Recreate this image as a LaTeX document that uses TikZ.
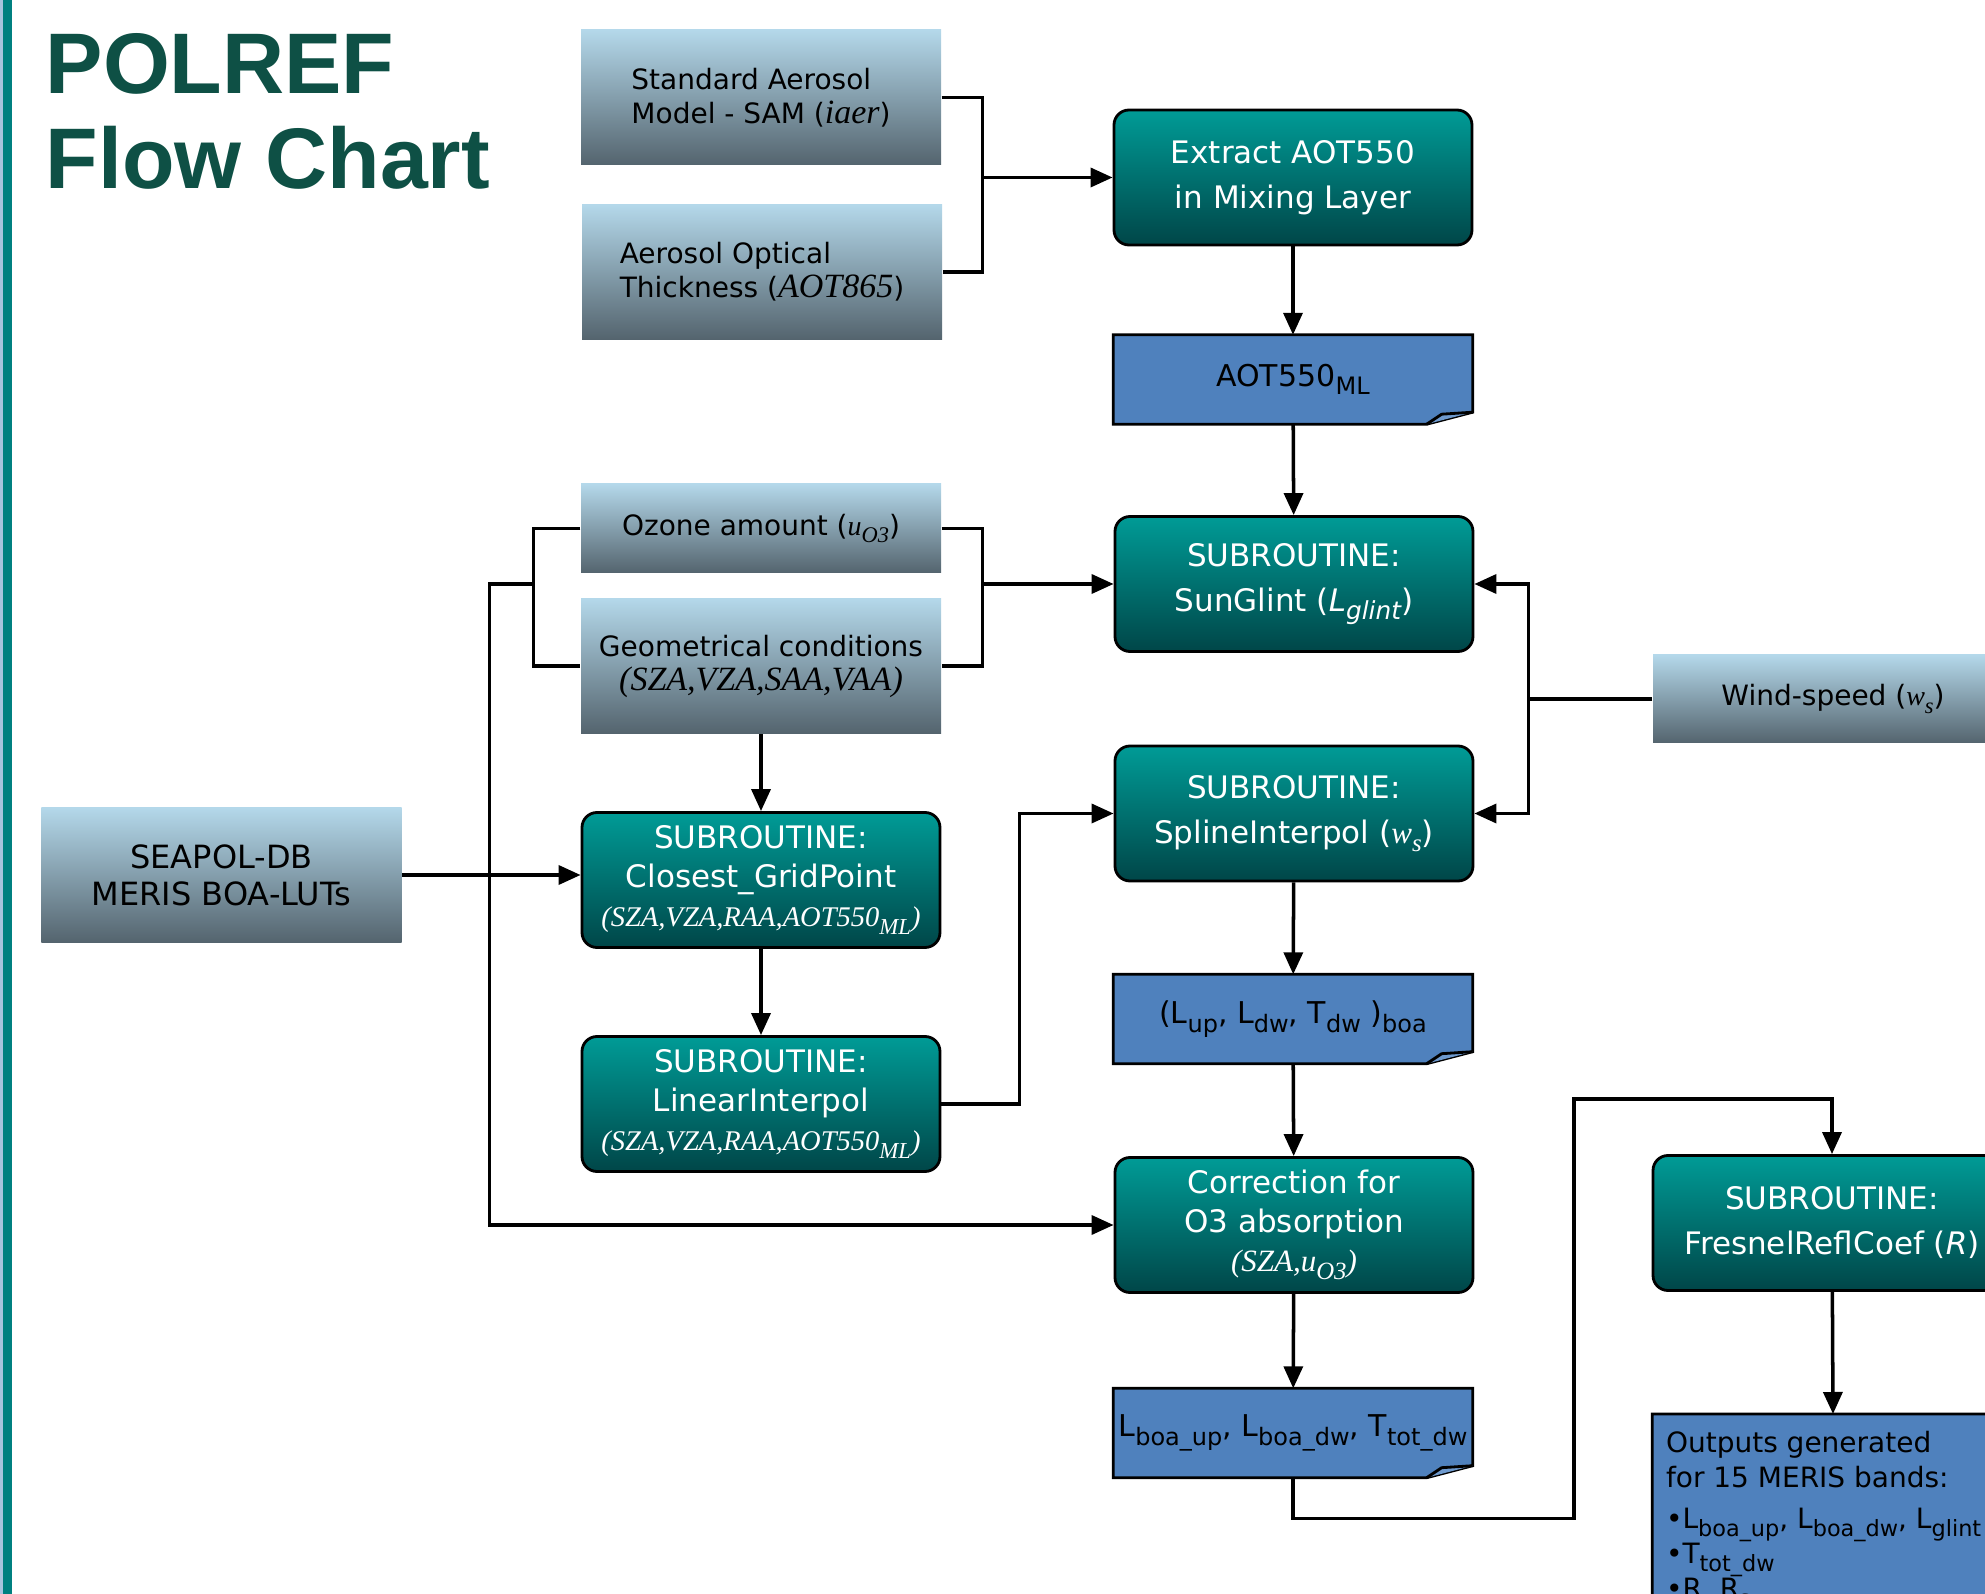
\documentclass[tikz,border=0pt]{standalone}
\usepackage{fontspec}
\setmainfont{DejaVu Sans}
\newfontfamily\timesfont{Liberation Serif}
\newfontfamily\titlefont{Liberation Sans}
\usetikzlibrary{arrows.meta}
\usetikzlibrary{positioning}
\usetikzlibrary{backgrounds}
\definecolor{inlight}{RGB}{180,216,234}
\definecolor{indark}{RGB}{84,100,110}
\definecolor{tealtop}{RGB}{0,155,150}
\definecolor{tealbot}{RGB}{0,70,72}
\definecolor{docblue}{RGB}{79,129,189}
\definecolor{docfold}{RGB}{110,154,206}
\definecolor{titlegreen}{RGB}{14,80,69}
\definecolor{barteal}{RGB}{0,128,128}
\definecolor{barblue}{RGB}{168,196,222}
\newcommand{\tvar}[1]{{\timesfont\itshape #1}}
\newcommand{\tbig}{\fontsize{0.34cm}{0.4cm}\selectfont}
\newcommand{\tmid}{\fontsize{0.285cm}{0.4cm}\selectfont}
\newcommand{\sub}[1]{\raisebox{-0.28em}{\scalebox{0.8}{#1}}}
\tikzset{
  inbox/.style = {rectangle, minimum width = 3.60cm, minimum height = #1, inner sep = 0.05cm,
    top color = inlight, bottom color = indark, align = center,
    font = \fontsize{0.28cm}{0.34cm}\selectfont},
  inbox/.default = 1.35cm,
  subbox/.style = {rectangle, rounded corners = 0.15cm, draw = black, line width = 0.8pt,
    minimum width = 3.58cm, minimum height = 1.35cm, inner sep = 0.05cm,
    top color = tealtop, bottom color = tealbot, text = white, align = center,
    font = \fontsize{0.31cm}{0.45cm}\selectfont},
  threeline/.style = {font = \fontsize{0.31cm}{0.39cm}\selectfont},
  docbox/.style = {rectangle, minimum width = 3.58cm, minimum height = 0.88cm, inner sep = 0.03cm,
    font = \fontsize{0.30cm}{0.36cm}\selectfont},
  docline/.style = {draw = black, line width = 0.8pt, fill = docblue},
  flow/.style = {line width = 1pt, -{Triangle[length = 0.22cm, width = 0.19cm]}},
  link/.style = {line width = 1pt}
}

\begin{document}
\begin{tikzpicture}
  \useasboundingbox (0,0) rectangle (19.85,-15.94);
  \clip (0,0) rectangle (19.85,-15.94);

  % side bar and title
  \fill[barblue] (0,0) rectangle (0.03,-15.94);
  \fill[barteal] (0.03,0) rectangle (0.12,-15.94);
  \node[font = \fontsize{0.86cm}{0.95cm}\titlefont\bfseries, text = titlegreen, align = left,
    inner sep = 0, anchor = north west] (title) at (0.45,-0.33) {POLREF\\Flow Chart};

  % inputs
  \node[inbox, align = left] (sam) at (7.61,-0.975) {Standard Aerosol\\Model - SAM ({\tbig\tvar{iaer}})};
  \node[inbox, align = left] (aotin) at (7.62,-2.72) {Aerosol Optical\\Thickness ({\tbig\tvar{AOT865}})};
  \node[inbox = 0.89cm] (ozone) at (7.61,-5.285) {Ozone amount (\tvar{u\sub{O3}})};
  \node[inbox] (geo) at (7.61,-6.66) {Geometrical conditions\\{\tbig\tvar{(SZA,VZA,SAA,VAA)}}};
  \node[inbox, font = \fontsize{0.32cm}{0.37cm}\selectfont] (seapol) at (2.215,-8.75) {SEAPOL-DB\\MERIS BOA-LUTs};
  \node[inbox = 0.88cm] (wind) at (18.33,-6.99) {Wind-speed (\tvar{w\sub{s}})};

  % subroutines
  \node[subbox] (extract) at (12.93,-1.775) {Extract AOT550\\in Mixing Layer};
  \node[subbox] (sunglint) at (12.94,-5.84) {SUBROUTINE:\\SunGlint (\textit{L\sub{glint}})};
  \node[subbox] (spline) at (12.94,-8.135) {SUBROUTINE:\\SplineInterpol (\tvar{w\sub{s}})};
  \node[subbox, threeline] (closest) at (7.61,-8.80) {SUBROUTINE:\\Closest\_GridPoint\\{\tmid\tvar{(SZA,VZA,RAA,AOT550\sub{ML})}}};
  \node[subbox, threeline] (linear) at (7.61,-11.04) {SUBROUTINE:\\LinearInterpol\\{\tmid\tvar{(SZA,VZA,RAA,AOT550\sub{ML})}}};
  \node[subbox, threeline] (o3corr) at (12.94,-12.25) {Correction for\\O3 absorption\\\tvar{(SZA,u\sub{O3})}};
  \node[subbox] (fresnel) at (18.32,-12.23) {SUBROUTINE:\\FresnelReflCoef (\textit{R})};

  % data
  \node[docbox] (aotml) at (12.93,-3.795) {AOT550\sub{ML}};
  \node[docbox] (boa) at (12.93,-10.19) {(L\sub{up}, L\sub{dw}, T\sub{dw} )\sub{boa}};
  \node[docbox] (lboa) at (12.93,-14.33) {L\sub{boa\_up}, L\sub{boa\_dw}, T\sub{tot\_dw}};
  \node[docbox, minimum width = 3.60cm, minimum height = 2.6cm, anchor = north] (outs) at (18.33,-14.14) {};
  \node[font = \fontsize{0.28cm}{0.35cm}\selectfont, align = left, inner sep = 0,
    anchor = north west] (outtext) at ([shift = {(0.13,-0.17)}]outs.north west)
    {Outputs generated\\for 15 MERIS bands:\\[0.06cm]•L\sub{boa\_up}, L\sub{boa\_dw}, L\sub{glint}\\•T\sub{tot\_dw}\\•R, R\sub{s}};

  \begin{scope}[on background layer]
    \foreach \d in {aotml, boa, lboa, outs} {
      \draw[docline] (\d.north west) -- (\d.north east) -- ([yshift = 0.12cm]\d.south east)
        -- ([xshift = -0.46cm]\d.south east) -- (\d.south west) -- cycle;
      \draw[docline, fill = docfold] ([xshift = -0.46cm]\d.south east)
        -- ([shift = {(-0.31,0.10)}]\d.south east) -- ([yshift = 0.12cm]\d.south east);
    }
  \end{scope}

  % junctions
  \coordinate[left = 1.30cm of extract.west] (jtop);
  \coordinate[left = 1.31cm of sunglint.west] (jglint);
  \coordinate[left = 4.49cm of jglint] (jleft);
  \coordinate[left = 0.44cm of jleft] (jfar);
  \coordinate[left = 1.24cm of wind.west] (jwind);
  \coordinate[right = 0.78cm of linear.east] (jlin);
  \coordinate[below = 0.41cm of lboa.south] (jlow);
  \coordinate (jturn) at (15.74,-10.99);

  % connectors
  \draw[link] (sam.east) -| (jtop) |- (aotin.east);
  \draw[flow] (jtop) -- (extract.west);
  \draw[flow] (extract) -- (aotml);
  \draw[flow] (aotml) -- (sunglint);
  \draw[link] (ozone.east) -| (jglint) |- (geo.east);
  \draw[flow] (jglint) -- (sunglint.west);
  \draw[link] (ozone.west) -| (jleft) |- (geo.west);
  \draw[flow] (jleft) -- (jfar) |- (o3corr.west);
  \draw[link] (wind.west) -- (jwind);
  \draw[flow] (jwind) |- (sunglint.east);
  \draw[flow] (jwind) |- (spline.east);
  \draw[flow] (seapol.east) -- (seapol.east -| closest.west);
  \draw[flow] (geo) -- (closest);
  \draw[flow] (closest) -- (linear);
  \draw[flow] (linear.east) -- (jlin) |- (spline.west);
  \draw[flow] (spline) -- (boa);
  \draw[flow] (boa) -- (o3corr);
  \draw[flow] (o3corr) -- (lboa);
  \draw[flow] (lboa.south) -- (jlow) -| (jturn) -| (fresnel.north);
  \draw[flow] (fresnel) -- (outs.north);
\end{tikzpicture}
\end{document}
